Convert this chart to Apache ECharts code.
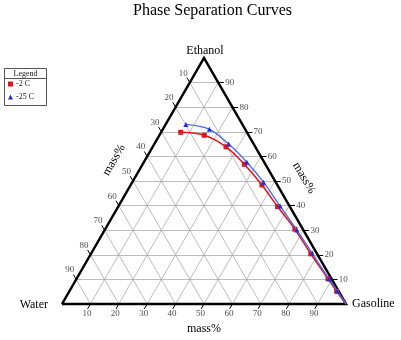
<!DOCTYPE html>
<html><head><meta charset="utf-8">
<script src="https://cdn.jsdelivr.net/npm/echarts@6/dist/echarts.min.js"></script>
<style>html,body{margin:0;padding:0;background:#fff}#c{width:401px;height:340px}</style>
</head><body><div id="c"></div>
<script>
// ---- data (mass%) ----
const chartTitle = 'Phase Separation Curves';
const seriesNames = ['-2 C', '-25 C'];
const redGasoline = [6.9, 15.8, 25.8, 35.8, 46.2, 56.1, 66.8, 77.4, 88.5, 94.1, 100];
const redEthanol  = [69.8, 68.6, 63.9, 56.8, 48.4, 39.6, 30.4, 20.4, 10.3, 5.2, 0];
const blueGasoline = [7.1, 16.4, 26.2, 36.3, 46.2, 56.9, 67.6, 77.8, 88.9, 94.3, 100];
const blueEthanol  = [73.0, 71.0, 65.0, 57.6, 49.5, 39.8, 30.1, 20.6, 10.2, 5.3, 0];
const gridLevels = [10, 20, 30, 40, 50, 60, 70, 80, 90];
const tickLabels = ['10', '20', '30', '40', '50', '60', '70', '80', '90'];
const cornerNames = ['Ethanol', 'Water', 'Gasoline'];
const axisTitle = 'mass%';
const legendTitle = 'Legend';

// ternary (gasoline, ethanol) -> cartesian (x, y)
function toXY(g, e) { return [g + e / 2, e]; }

const SERIF = '"Liberation Serif","DejaVu Serif",serif';
const T = 2; // tick length in mass% units

const gridLines = [], tickLines = [];
const leftPts = [], bottomPts = [], rightPts = [];
gridLevels.forEach((L, i) => {
  gridLines.push({coords: [toXY(0, L), toXY(100 - L, L)]});
  gridLines.push({coords: [toXY(L, 0), toXY(L, 100 - L)]});
  gridLines.push({coords: [toXY(0, 100 - L), toXY(100 - L, 0)]});
  tickLines.push({coords: [toXY(100 - L, L), toXY(100 - L + T, L)]});
  tickLines.push({coords: [toXY(L, 0), toXY(L, -T)]});
  tickLines.push({coords: [toXY(0, 100 - L), toXY(-T, 100 - L + T)]});
  rightPts.push({value: toXY(100 - L, L), name: tickLabels[i]});
  bottomPts.push({value: toXY(L, 0), name: tickLabels[i]});
  leftPts.push({value: toXY(0, 100 - L), name: tickLabels[i]});
});

function curve(gs, es) {
  return gs.map((g, i) => {
    const p = {value: toXY(g, es[i])};
    if (i === gs.length - 1) p.symbol = 'none';
    return p;
  });
}

function labelSeries(data, offset) {
  return {
    type: 'scatter', data: data, symbolSize: 1, clip: false, silent: true,
    itemStyle: {color: 'rgba(0,0,0,0)'},
    label: {show: true, position: 'inside', offset: offset, formatter: p => p.name,
            color: '#222', fontSize: 9, fontFamily: SERIF},
    z: 5
  };
}

const chart = echarts.init(document.getElementById('c'), null, {renderer: 'canvas'});
chart.setOption({
  animation: false,
  backgroundColor: '#fff',
  title: {text: chartTitle, left: 128, top: -2,
    textStyle: {fontSize: 16, fontWeight: 'normal', color: '#000', fontFamily: SERIF}},
  grid: {left: 62, top: 58, width: 284, height: 246},
  xAxis: {type: 'value', min: 0, max: 100, show: false},
  yAxis: {type: 'value', min: 0, max: 100, show: false},
  legend: {
    data: [{name: seriesNames[0], icon: 'rect'}, {name: seriesNames[1], icon: 'triangle'}],
    orient: 'vertical', left: 8, top: 80, padding: 0, itemGap: 5,
    itemWidth: 5, itemHeight: 5, z: 10,
    textStyle: {fontSize: 8, fontFamily: SERIF, color: '#222', padding: [0, 0, 0, -2]}
  },
  graphic: [
    {type: 'rect', shape: {x: 4.5, y: 68.5, width: 42, height: 37},
     style: {fill: '#fff', stroke: '#555', lineWidth: 1}, z: 1},
    {type: 'line', shape: {x1: 4.5, y1: 78.5, x2: 46.5, y2: 78.5},
     style: {stroke: '#555', lineWidth: 1}, z: 2},
    {type: 'text', x: 25.5, y: 73.5, style: {text: legendTitle, font: '8px ' + SERIF,
     fill: '#222', textAlign: 'center', textVerticalAlign: 'middle'}, z: 2},
    {type: 'text', x: 205, y: 51, style: {text: cornerNames[0], font: '12px ' + SERIF,
     fill: '#000', textAlign: 'center', textVerticalAlign: 'middle'}},
    {type: 'text', x: 48, y: 305, style: {text: cornerNames[1], font: '12px ' + SERIF,
     fill: '#000', textAlign: 'right', textVerticalAlign: 'middle'}},
    {type: 'text', x: 352, y: 304, style: {text: cornerNames[2], font: '12px ' + SERIF,
     fill: '#000', textAlign: 'left', textVerticalAlign: 'middle'}},
    {type: 'text', x: 204, y: 329, style: {text: axisTitle, font: '12px ' + SERIF,
     fill: '#000', textAlign: 'center', textVerticalAlign: 'middle'}},
    {type: 'text', x: 114, y: 160, rotation: Math.PI / 3, style: {text: axisTitle, font: '12px ' + SERIF,
     fill: '#000', textAlign: 'center', textVerticalAlign: 'middle'}},
    {type: 'text', x: 304, y: 178, rotation: -Math.PI / 3, style: {text: axisTitle, font: '12px ' + SERIF,
     fill: '#000', textAlign: 'center', textVerticalAlign: 'middle'}}
  ],
  series: [
    {type: 'lines', coordinateSystem: 'cartesian2d', data: gridLines, silent: true, clip: false,
     lineStyle: {color: '#a0a0a0', width: 0.7, opacity: 1}, z: 1},
    {type: 'lines', coordinateSystem: 'cartesian2d', data: tickLines, silent: true, clip: false,
     lineStyle: {color: '#000', width: 1, opacity: 1}, z: 2},
    {type: 'line', data: [toXY(0, 0), toXY(100, 0), toXY(0, 100), toXY(0, 0)],
     symbol: 'none', clip: false, silent: true,
     lineStyle: {color: '#000', width: 2.5, join: 'miter'}, z: 3},
    labelSeries(leftPts, [-6.5, -9.3]),
    labelSeries(bottomPts, [-3.5, 9.5]),
    labelSeries(rightPts, [11.5, 0]),
    {name: seriesNames[0], type: 'line', data: curve(redGasoline, redEthanol), smooth: 0.35,
     clip: false, symbol: 'rect', symbolSize: 5, showAllSymbol: true,
     itemStyle: {color: '#e0141c'}, lineStyle: {color: '#e8161e', width: 1.6}, z: 6},
    {name: seriesNames[1], type: 'line', data: curve(blueGasoline, blueEthanol), smooth: 0.35,
     clip: false, symbol: 'triangle', symbolSize: 5, showAllSymbol: true,
     itemStyle: {color: '#2233cc'}, lineStyle: {color: '#4a66ee', width: 1.3}, z: 7}
  ]
});
</script></body></html>
